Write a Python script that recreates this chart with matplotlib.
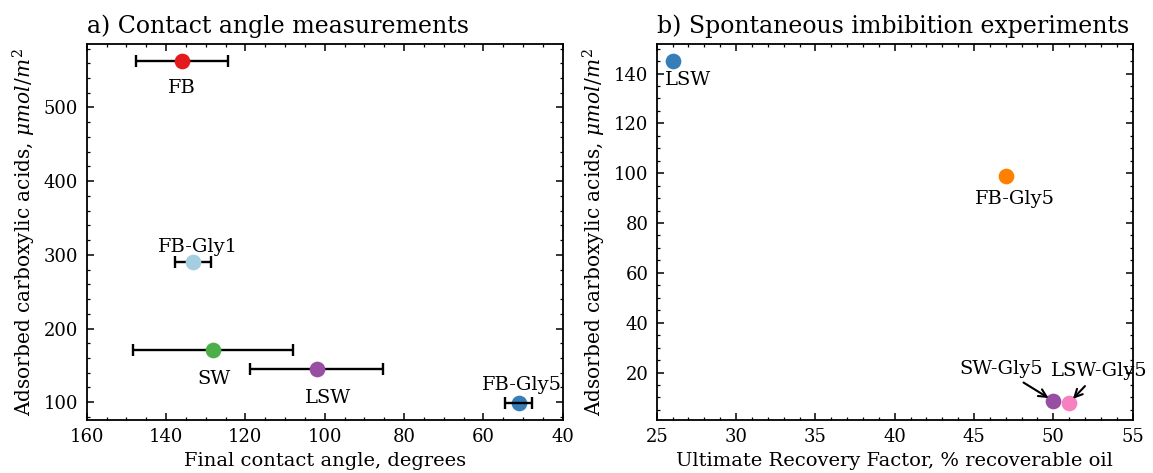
import matplotlib
matplotlib.use("Agg")
import matplotlib.pyplot as plt
from matplotlib.ticker import AutoMinorLocator

plt.rcParams.update({
    "font.family": "DejaVu Serif",
    "mathtext.fontset": "dejavuserif",
    "font.size": 13,
    "axes.linewidth": 1.3,
})

# (a) contact angle measurements
ca_names = ["FB", "FB-Gly1", "SW", "LSW", "FB-Gly5"]
ca_angle = [136.0, 133.2, 128.1, 102.0, 51.1]
ca_angle_err = [11.6, 4.5, 20.2, 16.8, 3.4]
ca_acids = [563, 290, 171, 145, 99]
ca_colors = ["#e41a1c", "#a6cee3", "#4daf4a", "#984ea3", "#377eb8"]

# (b) spontaneous imbibition experiments
si_names = ["LSW", "FB-Gly5", "SW-Gly5", "LSW-Gly5"]
si_recovery = [26.0, 47.0, 50.0, 51.0]
si_acids = [145, 99, 8.6, 7.8]
si_colors = ["#377eb8", "#ff7f00", "#984ea3", "#f781bf"]

# label placement (offset points from marker, baseline-anchored)
ca_offsets = {"FB": (0, -22.8), "FB-Gly1": (3.6, 7.2), "SW": (0.7, -24.5),
              "LSW": (7.9, -24.5), "FB-Gly5": (2.2, 9.6)}
si_offsets = {"LSW": (11.2, -17.5), "FB-Gly5": (6.3, -20.6)}
si_arrows = {"SW-Gly5": (-37.7, 19.7), "LSW-Gly5": (21.4, 19.2)}

ylabel = r"Adsorbed carboxylic acids, $\mu mol/m^2$"
label_fs = 14

fig = plt.figure(figsize=(11.53, 4.73), dpi=100)
ax1 = fig.add_axes([0.0752, 0.112, 0.4128, 0.795])
ax2 = fig.add_axes([0.5696, 0.112, 0.4127, 0.795])

for ax in (ax1, ax2):
    ax.xaxis.set_minor_locator(AutoMinorLocator())
    ax.yaxis.set_minor_locator(AutoMinorLocator())
    ax.tick_params(which="both", direction="in", top=True, right=True,
                   labelsize=13)
    ax.tick_params(which="major", length=5, width=1.1, pad=6)
    ax.tick_params(which="minor", length=2.5, width=0.9)

ms = 11.3
for name, x, xe, y, c in zip(ca_names, ca_angle, ca_angle_err, ca_acids, ca_colors):
    z_err = 4 if name == "FB-Gly5" else 2
    ax1.errorbar(x, y, xerr=xe, fmt="none", ecolor="black", elinewidth=1.7,
                 capsize=4.2, capthick=1.7, zorder=z_err)
    ax1.plot(x, y, "o", ms=ms, color=c, mec="none", zorder=3)
    dx, dy = ca_offsets[name]
    ax1.annotate(name, (x, y), xytext=(dx, dy), textcoords="offset points",
                 ha="center", va="baseline", fontsize=label_fs)

ax1.set_xlim(160, 40)
ax1.set_xlabel("Final contact angle, degrees", fontsize=label_fs)
ax1.set_ylabel(ylabel, fontsize=14.5)
ax1.set_title("a) Contact angle measurements", fontsize=17, loc="left", pad=8)

for name, x, y, c in zip(si_names, si_recovery, si_acids, si_colors):
    ax2.plot(x, y, "o", ms=ms, color=c, mec="none", zorder=3)
    if name in si_offsets:
        dx, dy = si_offsets[name]
        ax2.annotate(name, (x, y), xytext=(dx, dy), textcoords="offset points",
                     ha="center", va="baseline", fontsize=label_fs)
    else:
        dx, dy = si_arrows[name]
        ax2.annotate(name, (x, y), xytext=(dx, dy), textcoords="offset points",
                     ha="center", va="baseline", fontsize=label_fs,
                     arrowprops=dict(arrowstyle="->", color="black", lw=1.5,
                                     shrinkA=3, shrinkB=4))

ax2.set_xlim(25, 55)
ax2.set_xlabel("Ultimate Recovery Factor, % recoverable oil", fontsize=label_fs)
ax2.set_ylabel(ylabel, fontsize=14.5)
ax2.set_title("b) Spontaneous imbibition experiments", fontsize=17, loc="left", pad=8)

fig.savefig("out.png", dpi=100)
